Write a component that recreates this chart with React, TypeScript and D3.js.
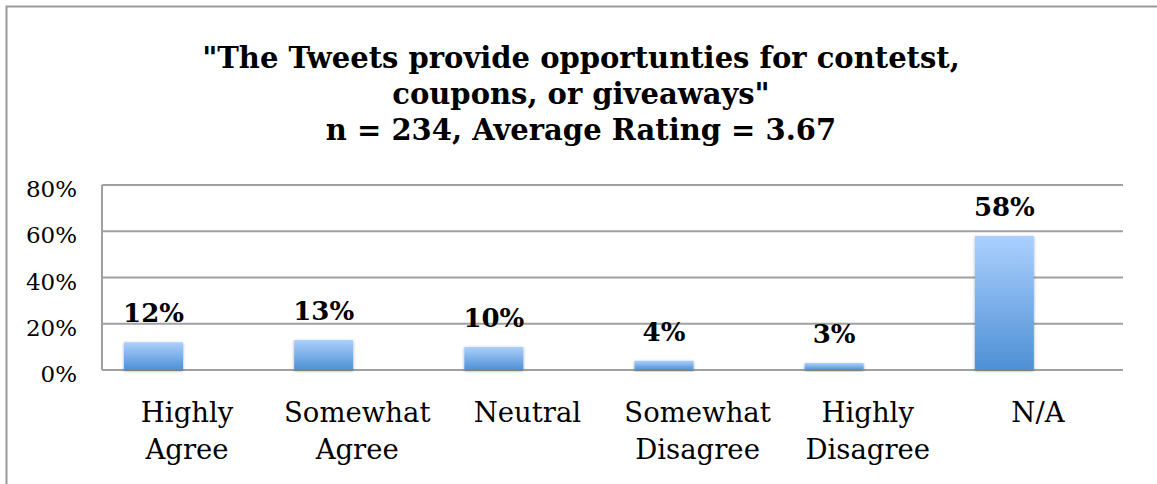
import React, { useRef, useEffect } from 'react';
import * as d3 from 'd3';

const categories = [
  ['Highly', 'Agree'],
  ['Somewhat', 'Agree'],
  ['Neutral'],
  ['Somewhat', 'Disagree'],
  ['Highly', 'Disagree'],
  ['N/A'],
];
const values = [12, 13, 10, 4, 3, 58];
const yTicks = [0, 20, 40, 60, 80];
const titleLines = [
  '"The Tweets provide opportunties for contetst,',
  'coupons, or giveaways"',
  'n = 234, Average Rating = 3.67',
];

const W = 1157;
const H = 484;

const App = () => {
  const svgRef = useRef<SVGSVGElement>(null);

  useEffect(() => {
    const svg = d3.select(svgRef.current);
    svg.selectAll('*').remove();

    const margin = { left: 102, right: 34, top: 185, bottom: 114 };
    const innerW = W - margin.left - margin.right;
    const innerH = H - margin.top - margin.bottom;

    const x = d3.scaleBand().domain(d3.range(categories.length).map(String)).range([0, innerW]);
    const y = d3.scaleLinear().domain([0, 80]).range([innerH, 0]);

    const defs = svg.append('defs');
    const grad = defs
      .append('linearGradient')
      .attr('id', 'barGrad')
      .attr('x1', 0)
      .attr('y1', 0)
      .attr('x2', 0)
      .attr('y2', 1);
    grad.append('stop').attr('offset', '0%').attr('stop-color', '#acd0fd');
    grad.append('stop').attr('offset', '100%').attr('stop-color', '#4d90d5');

    const shadow = defs.append('filter').attr('id', 'shadow').attr('x', '-20%').attr('y', '-20%').attr('width', '140%').attr('height', '140%');
    shadow
      .append('feDropShadow')
      .attr('dx', 0)
      .attr('dy', 1)
      .attr('stdDeviation', 1.5)
      .attr('flood-color', '#000')
      .attr('flood-opacity', 0.35);

    // outer frame
    svg
      .append('path')
      .attr('d', `M6.5,${H} V6.5 H${W}`)
      .attr('fill', 'none')
      .attr('stroke', '#9a9a9a')
      .attr('stroke-width', 2);

    // title
    const title = svg
      .append('text')
      .attr('text-anchor', 'middle')
      .attr('font-family', '"DejaVu Serif", serif')
      .attr('font-weight', 'bold')
      .attr('font-size', 29)
      .attr('fill', '#000');
    titleLines.forEach((t, i) => {
      title
        .append('tspan')
        .attr('x', 581)
        .attr('y', 68 + i * 36)
        .text(t);
    });

    const g = svg.append('g').attr('transform', `translate(${margin.left},${margin.top})`);

    // gridlines
    g.selectAll('.grid')
      .data(yTicks)
      .enter()
      .append('line')
      .attr('x1', 0)
      .attr('x2', innerW)
      .attr('y1', (d) => y(d))
      .attr('y2', (d) => y(d))
      .attr('stroke', '#a0a0a0')
      .attr('stroke-width', 2);

    g.append('line')
      .attr('x1', 0)
      .attr('x2', 0)
      .attr('y1', 0)
      .attr('y2', innerH)
      .attr('stroke', '#a0a0a0')
      .attr('stroke-width', 2);

    // y labels
    g.selectAll('.ylab')
      .data(yTicks)
      .enter()
      .append('text')
      .attr('x', -25)
      .attr('y', (d) => y(d) + 12)
      .attr('text-anchor', 'end')
      .attr('font-family', '"DejaVu Serif", serif')
      .attr('font-size', 23)
      .attr('fill', '#000')
      .text((d) => `${d}%`);

    const bw = 59;
    const offset = 22;

    // bars
    g.selectAll('.bar')
      .data(values)
      .enter()
      .append('rect')
      .attr('x', (d, i) => x(String(i)) + offset)
      .attr('y', (d) => y(d))
      .attr('width', bw)
      .attr('height', (d) => innerH - y(d))
      .attr('fill', 'url(#barGrad)')
      .attr('filter', 'url(#shadow)');

    // value labels
    g.selectAll('.val')
      .data(values)
      .enter()
      .append('text')
      .attr('x', (d, i) => x(String(i)) + offset + bw / 2)
      .attr('y', (d) => y(d) - 20)
      .attr('text-anchor', 'middle')
      .attr('font-family', '"DejaVu Serif", serif')
      .attr('font-weight', 'bold')
      .attr('font-size', 26)
      .attr('fill', '#000')
      .text((d) => `${d}%`);

    // x labels
    const xl = g
      .selectAll('.xlab')
      .data(categories)
      .enter()
      .append('text')
      .attr('text-anchor', 'middle')
      .attr('font-family', '"DejaVu Serif", serif')
      .attr('font-size', 27.5)
      .attr('fill', '#000');
    xl.each(function (d, i) {
      d.forEach((line, j) => {
        d3.select(this)
          .append('tspan')
          .attr('x', x(String(i)) + x.bandwidth() / 2)
          .attr('y', innerH + 52 + j * 37)
          .text(line);
      });
    });
  }, []);

  return (
    <div>
      <svg
        ref={svgRef}
        width={W}
        height={H}
        style={{ position: 'absolute', left: 0, top: 0, background: '#fff' }}
      ></svg>
    </div>
  );
};

export default App;
